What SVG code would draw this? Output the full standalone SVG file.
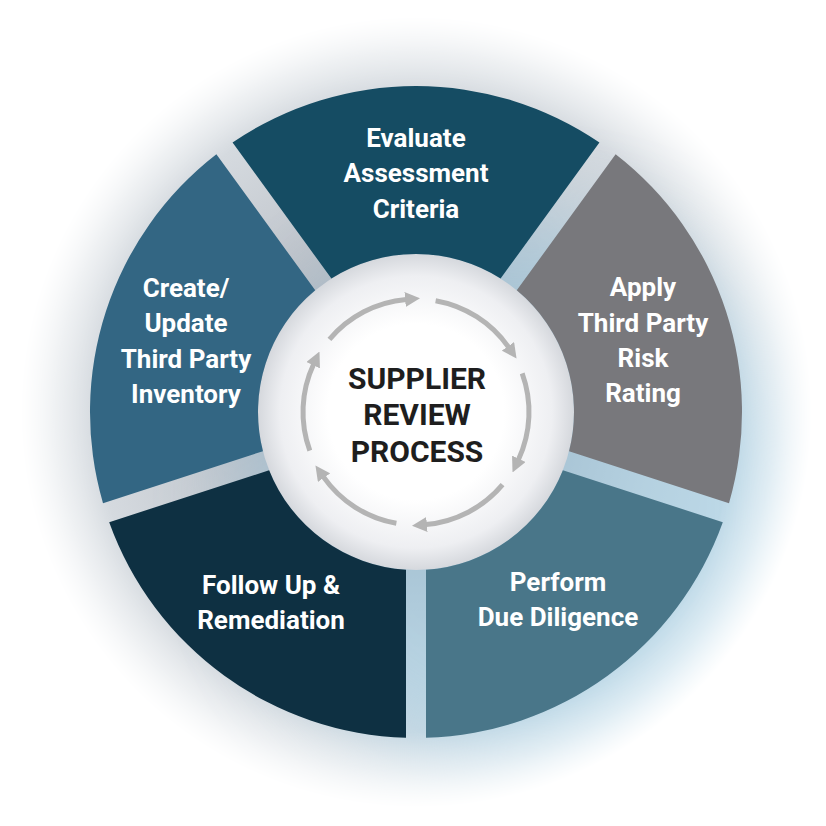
<svg xmlns="http://www.w3.org/2000/svg" width="826" height="826" viewBox="0 0 826 826">
  <defs>
    <style>
      .seg-text { font-family: Roboto, "Liberation Sans", Arial, sans-serif; font-weight: 700; font-size: 26px; fill: #ffffff; text-anchor: middle; }
      .center-text { font-family: Roboto, "Liberation Sans", Arial, sans-serif; font-weight: 700; font-size: 30px; fill: #1e1e1e; text-anchor: middle; }
      .arrow { fill: none; stroke: #b4b4b4; stroke-width: 5; marker-end: url(#head); }
    </style>
    <marker id="head" markerUnits="userSpaceOnUse" markerWidth="15" markerHeight="15" viewBox="0 0 14 14" refX="1" refY="7" orient="auto">
      <path d="M0,0 L14,7 L0,14 Z" fill="#b4b4b4"/>
    </marker>
    <radialGradient id="glowGrey" gradientUnits="userSpaceOnUse" cx="416" cy="412" r="400">
      <stop offset="0.38" stop-color="#b2b7bf"/>
      <stop offset="0.6" stop-color="#c8cdd3"/>
      <stop offset="0.82" stop-color="#d6dbe0"/>
      <stop offset="1" stop-color="#eef1f3"/>
    </radialGradient>
    <radialGradient id="fadeGrad" gradientUnits="userSpaceOnUse" cx="416" cy="412" r="400">
      <stop offset="0.8" stop-color="#ffffff"/>
      <stop offset="0.9" stop-color="#8a8a8a"/>
      <stop offset="0.99" stop-color="#000000"/>
    </radialGradient>
    <mask id="fade" maskUnits="userSpaceOnUse" x="0" y="0" width="826" height="826">
      <rect x="0" y="0" width="826" height="826" fill="url(#fadeGrad)"/>
    </mask>
    <filter id="blur" x="-50%" y="-50%" width="200%" height="200%">
      <feGaussianBlur stdDeviation="45"/>
    </filter>
    <radialGradient id="disc" gradientUnits="userSpaceOnUse" cx="416" cy="412" r="160">
      <stop offset="0" stop-color="#ffffff"/>
      <stop offset="0.55" stop-color="#ffffff"/>
      <stop offset="0.85" stop-color="#eeeff2"/>
      <stop offset="1" stop-color="#d3d6db"/>
    </radialGradient>
  </defs>

  <rect x="0" y="0" width="826" height="826" fill="#ffffff"/>

  <g id="background" mask="url(#fade)">
    <circle cx="416" cy="412" r="400" fill="url(#glowGrey)"/>
    <ellipse cx="530" cy="500" rx="280" ry="280" fill="#a3d5ee" opacity="0.5" filter="url(#blur)"/>
  </g>

  <circle id="center-disc" cx="416" cy="412" r="158" fill="url(#disc)"/>

  <g id="node-evaluate">
    <path d="M232.57,142.50 A326,326 0 0 1 599.43,142.50 L500.59,278.55 A158,158 0 0 0 331.41,278.55 Z" fill="#154c63"/>
    <text class="seg-text" x="416" y="147">Evaluate</text>
    <text class="seg-text" x="416" y="182">Assessment</text>
    <text class="seg-text" x="416" y="218">Criteria</text>
  </g>

  <g id="node-apply">
    <path d="M615.62,154.26 A326,326 0 0 1 728.99,503.18 L569.06,451.21 A158,158 0 0 0 516.78,290.31 Z" fill="#78787c"/>
    <text class="seg-text" x="643" y="296">Apply</text>
    <text class="seg-text" x="643" y="332">Third Party</text>
    <text class="seg-text" x="643" y="367">Risk</text>
    <text class="seg-text" x="643" y="402">Rating</text>
  </g>

  <g id="node-perform">
    <path d="M722.81,522.20 A326,326 0 0 1 426.00,737.85 L426.00,569.68 A158,158 0 0 0 562.88,470.24 Z" fill="#497689"/>
    <text class="seg-text" x="558" y="591">Perform</text>
    <text class="seg-text" x="558" y="626">Due Diligence</text>
  </g>

  <g id="node-follow">
    <path d="M406.00,737.85 A326,326 0 0 1 109.19,522.20 L269.12,470.24 A158,158 0 0 0 406.00,569.68 Z" fill="#0e3042"/>
    <text class="seg-text" x="271" y="594">Follow Up &amp;</text>
    <text class="seg-text" x="271" y="629">Remediation</text>
  </g>

  <g id="node-create">
    <path d="M103.01,503.18 A326,326 0 0 1 216.38,154.26 L315.22,290.31 A158,158 0 0 0 262.94,451.21 Z" fill="#336683"/>
    <text class="seg-text" x="186" y="297">Create/</text>
    <text class="seg-text" x="186" y="332">Update</text>
    <text class="seg-text" x="186" y="368">Third Party</text>
    <text class="seg-text" x="186" y="403">Inventory</text>
  </g>

  <g id="node-center">
    <text class="center-text" x="417" y="389">SUPPLIER</text>
    <text class="center-text" x="417" y="425">REVIEW</text>
    <text class="center-text" x="417" y="462">PROCESS</text>
  </g>

  <g id="connectors">
    <path class="arrow" d="M329.44,339.36 A113,113 0 0 1 406.15,299.43"/>
    <path class="arrow" d="M435.62,300.72 A113,113 0 0 1 508.56,347.19"/>
    <path class="arrow" d="M522.19,373.35 A113,113 0 0 1 518.41,459.76"/>
    <path class="arrow" d="M502.56,484.64 A113,113 0 0 1 425.85,524.57"/>
    <path class="arrow" d="M396.38,523.28 A113,113 0 0 1 323.44,476.81"/>
    <path class="arrow" d="M309.81,450.65 A113,113 0 0 1 313.59,364.24"/>
  </g>
</svg>
